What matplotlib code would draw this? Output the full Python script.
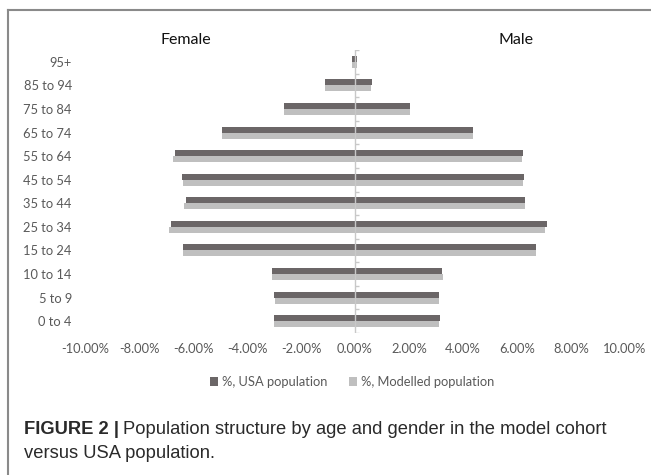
import matplotlib
matplotlib.use("Agg")
import matplotlib.pyplot as plt
from matplotlib.lines import Line2D
import numpy as np

age_groups = ["0 to 4", "5 to 9", "10 to 14", "15 to 24", "25 to 34", "35 to 44",
              "45 to 54", "55 to 64", "65 to 74", "75 to 84", "85 to 94", "95+"]
female_usa = [-2.99, -2.99, -3.06, -6.38, -6.83, -6.27, -6.42, -6.67, -4.93, -2.63, -1.10, -0.12]
female_model = [-2.99, -2.95, -3.07, -6.38, -6.89, -6.32, -6.38, -6.73, -4.93, -2.63, -1.10, -0.12]
male_usa = [3.15, 3.12, 3.22, 6.70, 7.10, 6.30, 6.27, 6.23, 4.36, 2.04, 0.63, 0.07]
male_model = [3.12, 3.10, 3.26, 6.72, 7.05, 6.31, 6.21, 6.19, 4.38, 2.04, 0.61, 0.07]
x_ticks = [-10, -8, -6, -4, -2, 0, 2, 4, 6, 8, 10]
series_labels = ["%, USA population", "%, Modelled population"]

W, H = 651, 475
fig = plt.figure(figsize=(W / 100, H / 100), dpi=100)
fig.patch.set_facecolor("white")

def fx(px):
    return px / W

def fy(py):
    return 1 - py / H

ax = fig.add_axes([fx(85), fy(333), fx(625) - fx(85), fy(50) - fy(333)])

dark = "#6b6667"
light = "#bfbfbf"
tick_col = "#595959"
y = np.arange(len(age_groups))
bh = 0.255
off = 0.128

ax.barh(y + off, female_usa, height=bh, color=dark, zorder=2)
ax.barh(y + off, male_usa, height=bh, color=dark, zorder=2, label=series_labels[0])
ax.barh(y - off, female_model, height=bh, color=light, zorder=2)
ax.barh(y - off, male_model, height=bh, color=light, zorder=2, label=series_labels[1])

ax.set_xlim(-10, 10)
ax.set_ylim(-0.5, len(age_groups) - 0.5)
for s in ax.spines.values():
    s.set_visible(False)

# vertical category axis at zero with small boundary ticks
ax.axvline(0, color="#c8c8c8", lw=1.0, zorder=3)
bounds = np.arange(len(age_groups) + 1) - 0.5
ax.hlines(bounds, 0, 0.13, color="#c8c8c8", lw=1.0, zorder=3)

ax.set_xticks(x_ticks)
ax.set_xticklabels([f"{v:.2f}%" for v in x_ticks])
ax.set_yticks(y)
ax.set_yticklabels(age_groups)
ax.tick_params(axis="both", length=0, colors=tick_col)
ax.tick_params(axis="x", pad=7.5)
ax.tick_params(axis="y", pad=9.5)
for lab in ax.get_xticklabels() + ax.get_yticklabels():
    lab.set_fontfamily("Lato")
    lab.set_fontsize(9.3)

fig.text(fx(186), fy(40), "Female", ha="center", va="center", fontsize=11.5,
         family="Lato", color="#111111")
fig.text(fx(516), fy(40), "Male", ha="center", va="center", fontsize=11.5,
         family="Lato", color="#111111")

handles, labels = ax.get_legend_handles_labels()
leg = fig.legend(handles, labels, loc="center", bbox_to_anchor=(fx(352), fy(382)),
                 ncol=2, frameon=False, handlelength=0.6, handleheight=0.6,
                 handletextpad=0.3, columnspacing=1.7,
                 prop={"family": "Lato", "size": 9.3})
for t in leg.get_texts():
    t.set_color(tick_col)

# caption
cap_size = 13.2
cap_col = "#2a2a2a"
t1 = fig.text(fx(24), fy(429), "FIGURE 2 |", ha="left", va="center", fontsize=cap_size,
              family="Liberation Sans", weight="bold", color=cap_col)
fig.canvas.draw()
bb = t1.get_window_extent(renderer=fig.canvas.get_renderer())
fig.text((bb.x1 + 4) / W, fy(429), "Population structure by age and gender in the model cohort",
         ha="left", va="center", fontsize=cap_size, family="Liberation Sans", color=cap_col)
fig.text(fx(24), fy(454), "versus USA population.", ha="left", va="center", fontsize=cap_size,
         family="Liberation Sans", color=cap_col)

# frame lines
fig.add_artist(Line2D([fx(8), fx(651)], [fy(10), fy(10)], color="#8a8a8a", lw=1.5,
                      transform=fig.transFigure))
fig.add_artist(Line2D([fx(8), fx(8)], [fy(10), fy(474)], color="#8a8a8a", lw=1.5,
                      transform=fig.transFigure))

fig.savefig("out.png", dpi=100)
